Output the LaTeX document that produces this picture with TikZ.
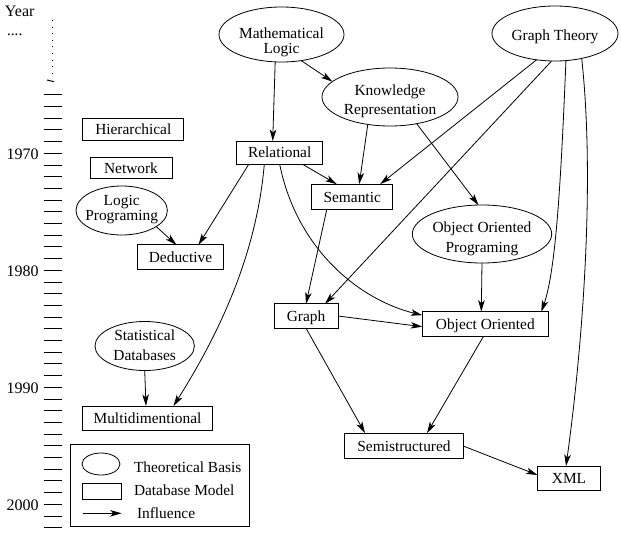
\documentclass[tikz,border=0pt]{standalone}
\usepackage{fontspec}
\setmainfont{Liberation Serif}
\usetikzlibrary{shapes.geometric,arrows.meta}
\begin{document}
\begin{tikzpicture}[x=1pt,y=-1pt,line width=0.8pt,
  every node/.style={inner sep=0pt,outer sep=0pt,font=\fontsize{15.4}{17}\selectfont},
  ell/.style={draw,ellipse},
  dbox/.style={draw,rectangle,text height=10pt,text depth=0pt},
  etext/.style={align=center,anchor=north},
  infl/.style={-{Stealth[length=11.5pt,width=6.5pt,inset=3pt]}},
  yrtick/.style={line width=1pt},
  yrlabel/.style={anchor=east,font=\fontsize{16}{18}\selectfont}]
\useasboundingbox (0,0) rectangle (621,535);

% year ruler
\node[anchor=base west,font=\fontsize{16}{18}\selectfont] (yearlbl) at (5,16.7) {Year};
\node[anchor=base west] (dots) at (7,35.7) {....};
\draw[line width=1pt,dash pattern=on 1pt off 5.6pt] (52,20) -- (52,74);
\draw[line width=1pt] (47,80) -- (54,81.7);
\foreach \yr in {1965,...,2002}
  \draw[yrtick] (44,{153.3+(\yr-1970)*11.7}) -- (62,{153.3+(\yr-1970)*11.7});
\foreach \yr in {1970,1980,1990,2000}
  \node[yrlabel] (y\yr) at (38.5,{154.3+(\yr-1970)*11.7}) {\yr};

% theoretical bases (ellipses)
\node[ell,minimum width=125pt,minimum height=55pt] (ml) at (281.5,34.5) {};
\node[etext,font=\fontsize{15.4}{14.5}\selectfont] (mlt) at (281.5,28.2) {Mathematical\\Logic};
\node[ell,minimum width=136pt,minimum height=58pt] (kr) at (390,97) {};
\node[etext,font=\fontsize{15.4}{19}\selectfont] (krt) at (390,84.5) {Knowledge\\Representation};
\node[ell,minimum width=126pt,minimum height=55pt] (gt) at (555,33.5) {};
\node[anchor=base] (gtt) at (555,40.5) {Graph Theory};
\node[ell,minimum width=91.4pt,minimum height=49pt] (lp) at (121.7,210.5) {};
\node[etext,font=\fontsize{15.4}{14.7}\selectfont] (lpt) at (121.7,195.5) {Logic\\Programing};
\node[ell,minimum width=139.4pt,minimum height=58pt] (oop) at (482,234) {};
\node[etext,font=\fontsize{15.4}{20.4}\selectfont] (oopt) at (482,221.8) {Object Oriented\\Programing};
\node[ell,minimum width=99.4pt,minimum height=49pt] (st) at (144.7,346) {};
\node[etext,font=\fontsize{15.4}{19.3}\selectfont] (stt) at (144.7,330.2) {Statistical\\Databases};

% database models (boxes)
\node[dbox,minimum width=101pt,minimum height=22.7pt] (hier) at (133.3,129.3) {Hierarchical};
\node[dbox,minimum width=82pt,minimum height=20.6pt] (net) at (131,168) {Network};
\node[dbox,minimum width=85.6pt,minimum height=24.3pt] (ded) at (180.5,257) {Deductive};
\node[dbox,minimum width=86pt,minimum height=23.3pt] (rel) at (279.7,152.7) {Relational};
\node[dbox,minimum width=81pt,minimum height=25.7pt] (sem) at (352.2,197) {Semantic};
\node[dbox,minimum width=64pt,minimum height=24.3pt] (graph) at (306,316) {Graph};
\node[dbox,minimum width=126pt,minimum height=25pt] (oo) at (485.3,324.2) {Object Oriented};
\node[dbox,minimum width=130.4pt,minimum height=24pt] (multi) at (147.5,418) {Multidimentional};
\node[dbox,minimum width=118.3pt,minimum height=25.7pt] (semi) at (404,446) {Semistructured};
\node[dbox,minimum width=63pt,minimum height=24pt] (xml) at (569,478) {XML};

% influences
\draw[infl] (ml.-103) -- ([xshift=-7pt]rel.north);
\draw[infl] (ml.-53) -- (kr.165);
\draw[infl] (kr.-129) -- ([xshift=7pt]sem.north);
\draw[infl] (kr.-45) -- (oop.97);
\draw[infl] (gt.-125) -- ([xshift=28pt]sem.north);
\draw[infl] (gt.-97) -- ([xshift=19pt]graph.north);
\draw[infl] (gt.-68) .. controls (561,180) and (556,270) .. ([xshift=56pt]oo.north);
\draw[infl] (gt.-43) .. controls (597,200) and (578,380) .. ([xshift=-3pt]xml.north);
\draw[infl] ([xshift=23pt]rel.south) -- ([xshift=-15.5pt]sem.north);
\draw[infl] ([xshift=-31pt]rel.south) -- ([xshift=18pt]ded.north);
\draw[infl] (lp.-25) -- ([xshift=-4pt]ded.north);
\draw[infl] ([xshift=-15.4pt]rel.south) .. controls (256,260) and (215,340) .. ([xshift=26pt]multi.north);
\draw[infl] (rel.south) .. controls (297,250) and (360,300) .. ([yshift=9pt]oo.west);
\draw[infl] ([xshift=-25.5pt]sem.south) -- (graph.north);
\draw[infl] (oop.south) -- ([xshift=-4pt]oo.north);
\draw[infl] (graph.east) -- ([yshift=-2.5pt]oo.west);
\draw[infl] (graph.south) -- ([xshift=-39pt]semi.north);
\draw[infl] ([xshift=-2pt]oo.south) -- ([xshift=23pt]semi.north);
\draw[infl] (semi.east) -- ([yshift=3pt]xml.west);
\draw[infl] (st.south) -- ([xshift=-1.5pt]multi.north);

% legend
\node[draw,rectangle,minimum width=179pt,minimum height=82.7pt] (legend) at (159.5,485.4) {};
\node[ell,minimum width=38pt,minimum height=22pt] (lgell) at (101,464) {};
\node[anchor=base west] (lgellt) at (134,472.7) {Theoretical Basis};
\node[draw,rectangle,minimum width=38.3pt,minimum height=16pt] (lgbox) at (101.9,491) {};
\node[anchor=base west] (lgboxt) at (134,495) {Database Model};
\coordinate (la1) at (82.7,513.3);
\coordinate (la2) at (121.7,513.3);
\draw[infl] (la1) -- (la2);
\node[anchor=base west] (lgarrt) at (137,518.3) {Influence};
\end{tikzpicture}
\end{document}
